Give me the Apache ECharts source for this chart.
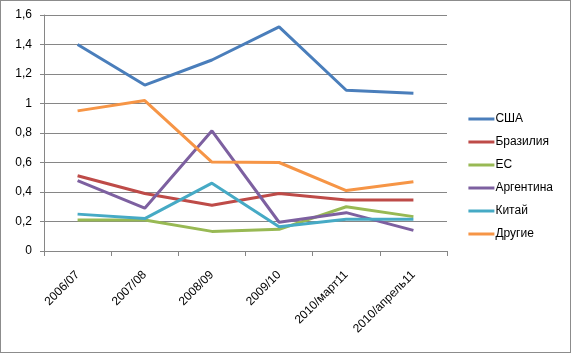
<!DOCTYPE html>
<html>
<head>
<meta charset="utf-8">
<script src="https://cdn.jsdelivr.net/npm/echarts@6/dist/echarts.min.js"></script>
<style>
html, body { margin: 0; padding: 0; background: #fff; }
#chart { width: 571px; height: 353px; box-sizing: border-box; border: 1px solid #8c8c8c; }
</style>
</head>
<body>
<div id="chart"></div>
<script>
// категории и значения
var categories = ['2006/07', '2007/08', '2008/09', '2009/10', '2010/март11', '2010/апрель11']
var usa = [1.40, 1.125, 1.295, 1.52, 1.09, 1.07]
var brazil = [0.51, 0.39, 0.31, 0.39, 0.345, 0.345]
var eu = [0.21, 0.21, 0.133, 0.147, 0.30, 0.233]
var argentina = [0.477, 0.29, 0.815, 0.195, 0.26, 0.14]
var china = [0.25, 0.22, 0.46, 0.165, 0.215, 0.215]
var others = [0.95, 1.02, 0.603, 0.60, 0.41, 0.47]

var names = ['США', 'Бразилия', 'ЕС', 'Аргентина', 'Китай', 'Другие']
var colors = ['#4A7EBB', '#BE4B48', '#98B954', '#7D60A0', '#46AAC5', '#F69546']
var data = [usa, brazil, eu, argentina, china, others]

var chart = echarts.init(document.getElementById('chart'))
var font = 'Liberation Sans'

chart.setOption({
  animation: false,
  color: colors,
  grid: { left: 43, right: 123, top: 14, bottom: 101 },
  legend: {
    orient: 'vertical',
    right: 12,
    top: 'middle',
    itemWidth: 26,
    itemHeight: 3,
    itemGap: 11,
    icon: 'rect',
    textStyle: { fontFamily: font, fontSize: 12, color: '#000', padding: [0, 0, 0, -4] },
    data: names
  },
  xAxis: {
    type: 'category',
    data: categories,
    boundaryGap: true,
    axisLine: { lineStyle: { color: '#868686' } },
    axisTick: { show: true, length: 5, lineStyle: { color: '#868686' } },
    axisLabel: { rotate: 45, fontFamily: font, fontSize: 12, color: '#000', margin: 22 }
  },
  yAxis: {
    type: 'value',
    min: 0,
    max: 1.6,
    interval: 0.2,
    axisLine: { show: true, lineStyle: { color: '#868686' } },
    axisTick: { show: true, length: 4, lineStyle: { color: '#868686' } },
    splitLine: { lineStyle: { color: '#868686' } },
    axisLabel: {
      fontFamily: font, fontSize: 12, color: '#000', margin: 12,
      formatter: function (v) { return String(Math.round(v * 10) / 10).replace('.', ',') }
    }
  },
  series: names.map(function (n, i) {
    return {
      name: n,
      type: 'line',
      data: data[i],
      symbol: 'none',
      lineStyle: { width: 3 }
    }
  })
})
</script>
</body>
</html>
